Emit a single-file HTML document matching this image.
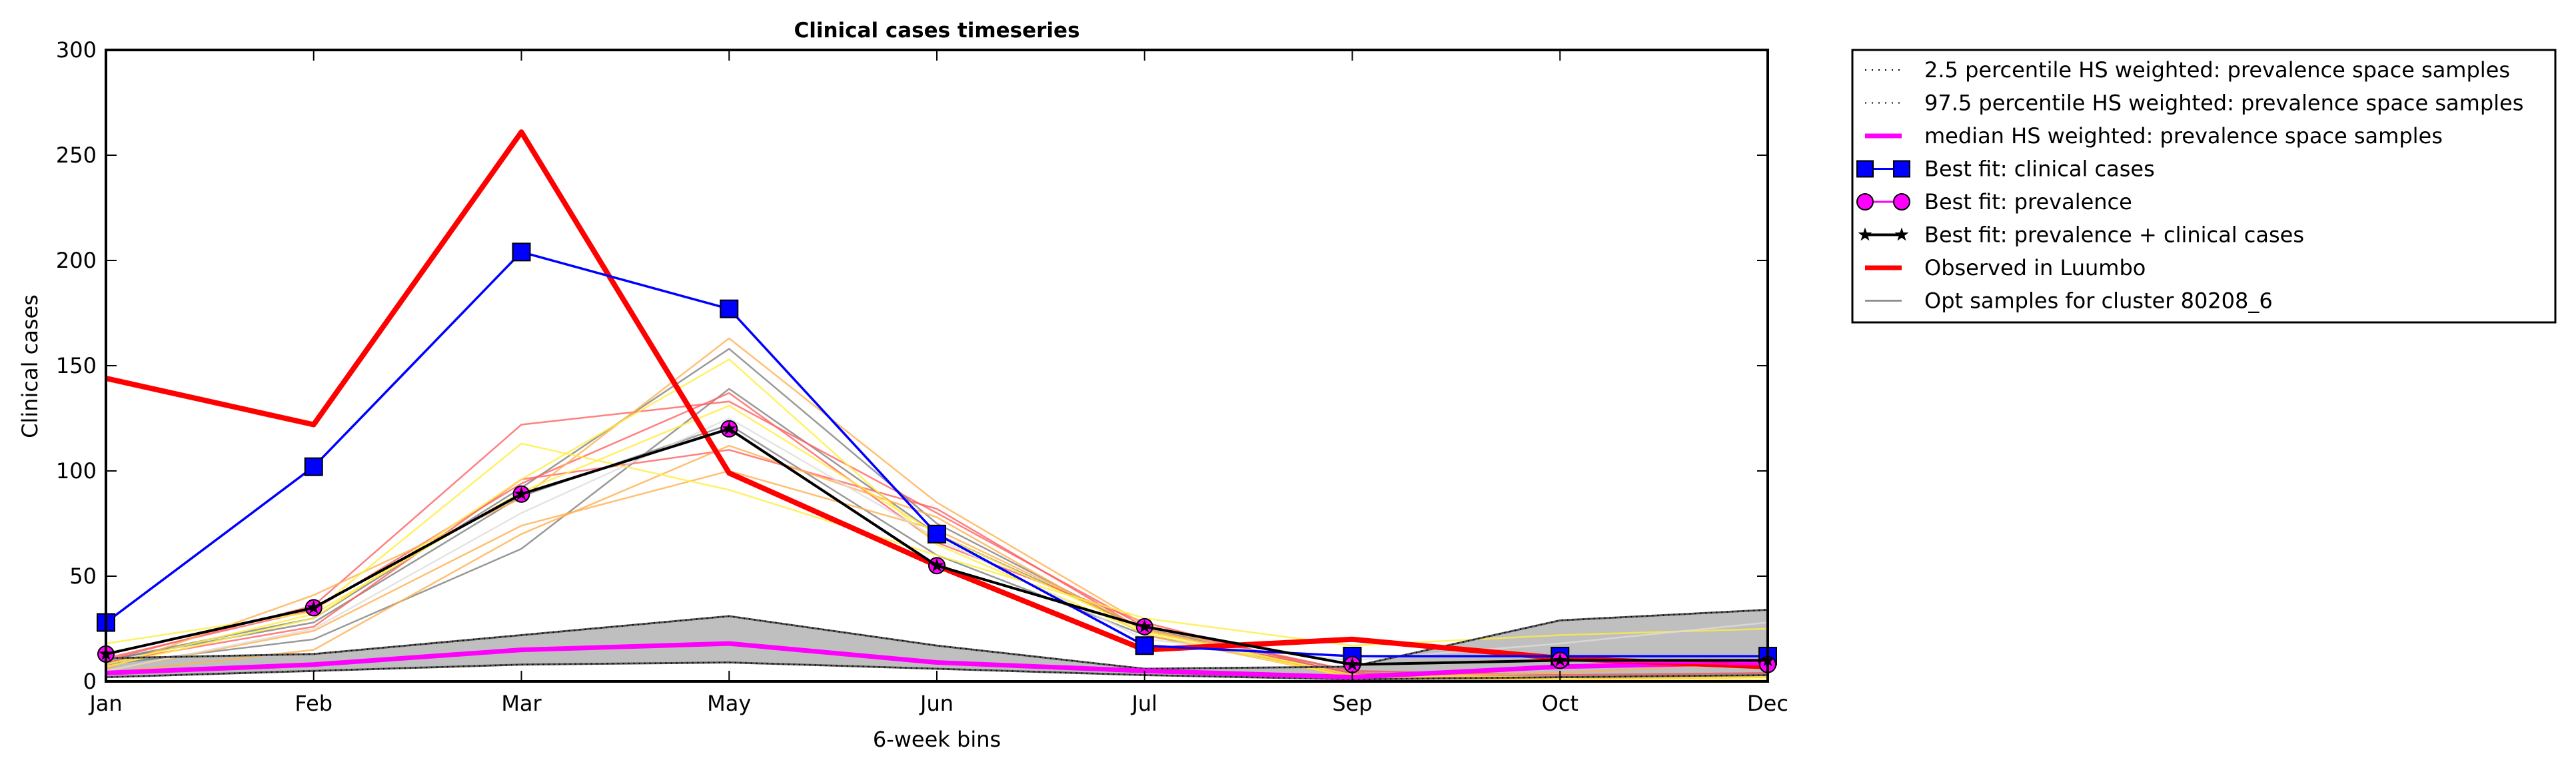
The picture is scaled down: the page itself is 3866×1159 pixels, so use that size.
<!DOCTYPE html>
<html><head><meta charset="utf-8">
<style>
html,body{margin:0;padding:0;background:#fff;}
svg{display:block;font-family:"DejaVu Sans","Liberation Sans",sans-serif;}
</style></head>
<body>
<svg id="chart" width="3866" height="1159" viewBox="0 0 3866 1159" xmlns="http://www.w3.org/2000/svg">
<text x="1406" y="56" font-size="31" font-weight="bold" text-anchor="middle">Clinical cases timeseries</text>
<text x="0" y="0" font-size="32" text-anchor="middle" transform="translate(56,550) rotate(-90)">Clinical cases</text>
<text x="1406" y="1121" font-size="32" text-anchor="middle">6-week bins</text>
<g id="marks"></g>
<g id="axes"></g>
<g id="legend"></g>
</svg>
<script>
const categories = ["Jan","Feb","Mar","May","Jun","Jul","Sep","Oct","Dec"];
const yTicks = [0,50,100,150,200,250,300];
const observed = [144,122,261,99,55,15,20,11,7];
const bestClinical = [28,102,204,177,70,17,12,12,12];
const bestPrevalence = [13,35,89,120,55,26,8,10,8];
const bestBoth = [13,35,89,120,55,26,8,10,10];
const median = [4,8,15,18,9,5,2,7,9];
const p025 = [2,5,8,9,6,3,1,2,3];
const p975 = [11,13,22,31,17,6,7,29,34];
const sampleColors = ["#808080","#808080","#808080","#ff6060","#ff6060","#ff6060","#ffb050","#ffb050","#ffb050","#ffee40","#ffee40","#ffee40","#dddddd"];
const samples = [
 [8,20,63,139,70,25,5,3,4],
 [10,30,92,158,75,24,4,2,3],
 [10,28,88,122,60,22,3,2,2],
 [10,36,122,133,80,26,5,3,4],
 [9,26,96,110,82,24,4,2,3],
 [11,34,94,137,66,28,3,2,2],
 [6,41,87,163,85,27,1,1,3],
 [5,24,74,100,72,25,2,4,9],
 [4,15,70,112,78,22,2,1,2],
 [18,33,113,91,60,30,17,22,25],
 [7,30,96,153,65,23,2,1,1],
 [8,32,90,131,70,24,3,2,2],
 [5,25,80,125,68,20,10,18,28]
];
const NS="http://www.w3.org/2000/svg";
const L=159,R=2653,T=75,B=1023;
const xs=i=>L+(R-L)*i/(categories.length-1);
const ys=v=>B-(B-T)*v/300;
function mk(tag,attrs,parent){const e=document.createElementNS(NS,tag);for(const k in attrs)e.setAttribute(k,attrs[k]);parent.appendChild(e);return e;}
const marks=document.getElementById('marks');
const axes=document.getElementById('axes');
const leg=document.getElementById('legend');
function pts(arr){return arr.map((v,i)=>xs(i)+","+ys(v)).join(" ");}
let bandPts=p975.map((v,i)=>xs(i)+","+ys(v)).concat(p025.map((v,i)=>[i,v]).reverse().map(([i,v])=>xs(i)+","+ys(v))).join(" ");
const band=mk('polygon',{points:bandPts,fill:'#bfbfbf',stroke:'none'},marks);


samples.forEach((s,k)=>{
 const p=mk('polyline',{points:pts(s),fill:'none',stroke:sampleColors[k],'stroke-width':2.5,'stroke-opacity':0.8},marks);
 
 
});
[p025,p975].forEach((s,k)=>{
 const p=mk('polyline',{points:pts(s),fill:'none',stroke:'#555','stroke-width':3},marks);
 
 
 mk('polyline',{points:pts(s),fill:'none',stroke:'#000','stroke-width':2,'stroke-dasharray':'2 6'},marks);
});
const med=mk('polyline',{points:pts(median),fill:'none',stroke:'#ff00ff','stroke-width':7},marks);


const obs=mk('polyline',{points:pts(observed),fill:'none',stroke:'#ff0000','stroke-width':8,'stroke-linejoin':'round'},marks);


const bc=mk('polyline',{points:pts(bestClinical),fill:'none',stroke:'#0000ff','stroke-width':3.5},marks);


bestClinical.forEach((v,i)=>{
 const r=mk('rect',{x:xs(i)-13,y:ys(v)-13,width:26,height:26,fill:'#0000ff',stroke:'#000','stroke-width':2},marks);
 
 
});
const bp=mk('polyline',{points:pts(bestPrevalence),fill:'none',stroke:'#ff00ff','stroke-width':3},marks);


bestPrevalence.forEach((v,i)=>{
 const c=mk('circle',{cx:xs(i),cy:ys(v),r:12,fill:'#ff00ff',stroke:'#000','stroke-width':2},marks);
 
 
});
const bb=mk('polyline',{points:pts(bestBoth),fill:'none',stroke:'#000','stroke-width':4},marks);


function star(cx,cy,r){let s=[];for(let j=0;j<10;j++){const a=-Math.PI/2+j*Math.PI/5;const rr=j%2?r*0.4:r;s.push((cx+rr*Math.cos(a))+","+(cy+rr*Math.sin(a)));}return s.join(" ");}
bestBoth.forEach((v,i)=>{
 const s=mk('polygon',{points:star(xs(i),ys(v),11),fill:'#000'},marks);
 
 
});
const fr=mk('rect',{x:L,y:T,width:R-L,height:B-T,fill:'none',stroke:'#000','stroke-width':4},axes);


categories.forEach((c,i)=>{
 mk('line',{x1:xs(i),x2:xs(i),y1:B,y2:B-16,stroke:'#000','stroke-width':2},axes);
 mk('line',{x1:xs(i),x2:xs(i),y1:T,y2:T+16,stroke:'#000','stroke-width':2},axes);
 const t=mk('text',{x:xs(i),y:1067,'font-size':32,'text-anchor':'middle'},axes);
 t.textContent=c;
 
 
});
yTicks.forEach(v=>{
 mk('line',{x1:L,x2:L+16,y1:ys(v),y2:ys(v),stroke:'#000','stroke-width':2},axes);
 mk('line',{x1:R,x2:R-16,y1:ys(v),y2:ys(v),stroke:'#000','stroke-width':2},axes);
 const t=mk('text',{x:L-14,y:ys(v)+11,'font-size':32,'text-anchor':'end'},axes);
 t.textContent=v;
 
 
});
const lb=mk('rect',{x:2780,y:75,width:1055,height:409,fill:'#fff',stroke:'#000','stroke-width':3},leg);


const items=[
 ["2.5 percentile HS weighted: prevalence space samples","dot"],
 ["97.5 percentile HS weighted: prevalence space samples","dot"],
 ["median HS weighted: prevalence space samples","mag"],
 ["Best fit: clinical cases","sq"],
 ["Best fit: prevalence","circ"],
 ["Best fit: prevalence + clinical cases","star"],
 ["Observed in Luumbo","red"],
 ["Opt samples for cluster 80208_6","grey"]];
items.forEach((it,k)=>{
 const y=105+k*49.5;
 const g=mk('g',{},leg);
 
 
 const x1=2799,x2=2854;
 if(it[1]=="dot")mk('line',{x1:x1,x2:x2,y1:y,y2:y,stroke:'#000','stroke-width':2,'stroke-dasharray':'2 8'},g);
 if(it[1]=="mag")mk('line',{x1:x1,x2:x2,y1:y,y2:y,stroke:'#ff00ff','stroke-width':7},g);
 if(it[1]=="red")mk('line',{x1:x1,x2:x2,y1:y,y2:y,stroke:'#ff0000','stroke-width':7},g);
 if(it[1]=="grey")mk('line',{x1:x1,x2:x2,y1:y,y2:y,stroke:'#808080','stroke-width':2.5},g);
 if(it[1]=="sq"){mk('line',{x1:x1,x2:x2,y1:y,y2:y,stroke:'#0000ff','stroke-width':3},g);[x1,x2].forEach(x=>mk('rect',{x:x-12,y:y-12,width:24,height:24,fill:'#0000ff',stroke:'#000','stroke-width':2},g));}
 if(it[1]=="circ"){mk('line',{x1:x1,x2:x2,y1:y,y2:y,stroke:'#ff00ff','stroke-width':3},g);[x1,x2].forEach(x=>mk('circle',{cx:x,cy:y,r:12,fill:'#ff00ff',stroke:'#000','stroke-width':2},g));}
 if(it[1]=="star"){mk('line',{x1:x1,x2:x2,y1:y,y2:y,stroke:'#000','stroke-width':4},g);[x1,x2].forEach(x=>mk('polygon',{points:star(x,y,11),fill:'#000'},g));}
 const t=mk('text',{x:2888,y:y+11,'font-size':32},g);
 t.textContent=it[0];
});
</script>
</body></html>
